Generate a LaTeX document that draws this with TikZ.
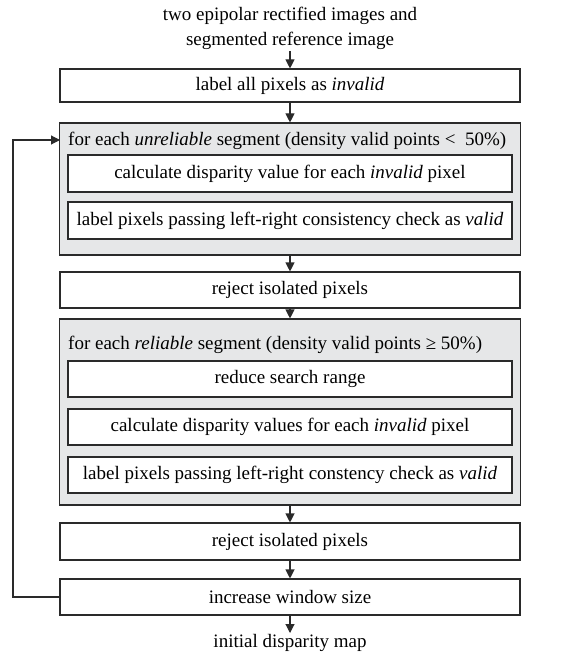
\documentclass[tikz,border=0pt]{standalone}
\usepackage{fontspec}
\setmainfont{Liberation Serif}
\usetikzlibrary{arrows.meta}
\definecolor{panelgray}{HTML}{E6E7E8}
\definecolor{edge}{HTML}{2A2A2A}
\begin{document}
\begin{tikzpicture}[x=1pt,y=-1pt,
  every node/.style={font=\fontsize{19}{25}\selectfont, text=black},
  stepbox/.style={draw=edge, line width=1.1pt, fill=white, minimum width=460pt, inner sep=0pt, align=center},
  innerbox/.style={stepbox, minimum width=444pt},
  panel/.style={draw=edge, line width=1.1pt, fill=panelgray, minimum width=461pt, inner sep=0pt},
  header/.style={anchor=west, inner sep=0pt},
  arr/.style={draw=edge, line width=1.1pt, -{Triangle[width=9pt,length=9pt]}},
  plain/.style={anchor=center, inner sep=0pt, align=center}]
\useasboundingbox (0,0) rectangle (577,655);

% input description
\node[plain] (input) at (290,28) {two epipolar rectified images and\\segmented reference image};
\coordinate (inbot) at (290,51);

\node[stepbox, minimum height=33pt] (init) at (290,85.5) {label all pixels as \textit{invalid}};

% first loop body: unreliable segments
\node[panel, minimum height=132pt] (loopA) at (290,189) {};
\node[header] (headA) at (68,141) {for each \textit{unreliable} segment (density valid points <\ \ 50\%)};
\node[innerbox, minimum height=37pt] (calcA) at (290,173.5) {calculate disparity value for each \textit{invalid} pixel};
\node[innerbox, minimum height=37pt] (checkA) at (290,220.5) {label pixels passing left-right consistency check as \textit{valid}};

\node[stepbox, minimum height=36pt] (rejA) at (290,290) {reject isolated pixels};

% second loop body: reliable segments
\node[panel, minimum height=186pt] (loopB) at (290,412) {};
\node[header] (headB) at (68,345) {for each \textit{reliable} segment (density valid points ≥ 50\%)};
\node[innerbox, minimum height=36pt] (range) at (290,379) {reduce search range};
\node[innerbox, minimum height=36pt] (calcB) at (290,427) {calculate disparity values for each \textit{invalid} pixel};
\node[innerbox, minimum height=36pt] (checkB) at (290,475) {label pixels passing left-right constency check as \textit{valid}};

\node[stepbox, minimum height=37pt] (rejB) at (290,541.5) {reject isolated pixels};
\node[stepbox, minimum height=36pt] (grow) at (290,597) {increase window size};

\node[plain] (output) at (290,643) {initial disparity map};
\coordinate (outtop) at (290,633);

% main flow
\draw[arr] (inbot) -- (init.north);
\draw[arr] (init.south) -- (loopA.north);
\draw[arr] (loopA.south) -- (rejA.north);
\draw[arr] (rejA.south) -- (loopB.north);
\draw[arr] (loopB.south) -- (rejB.north);
\draw[arr] (rejB.south) -- (grow.north);
\draw[arr] (grow.south) -- (outtop);

% feedback loop
\coordinate (fbL) at (13,597);
\coordinate (fbT) at (13,140);
\coordinate (fbE) at (60,140);
\draw[arr] (grow.west) -- (fbL) -- (fbT) -- (fbE);
\end{tikzpicture}
\end{document}
